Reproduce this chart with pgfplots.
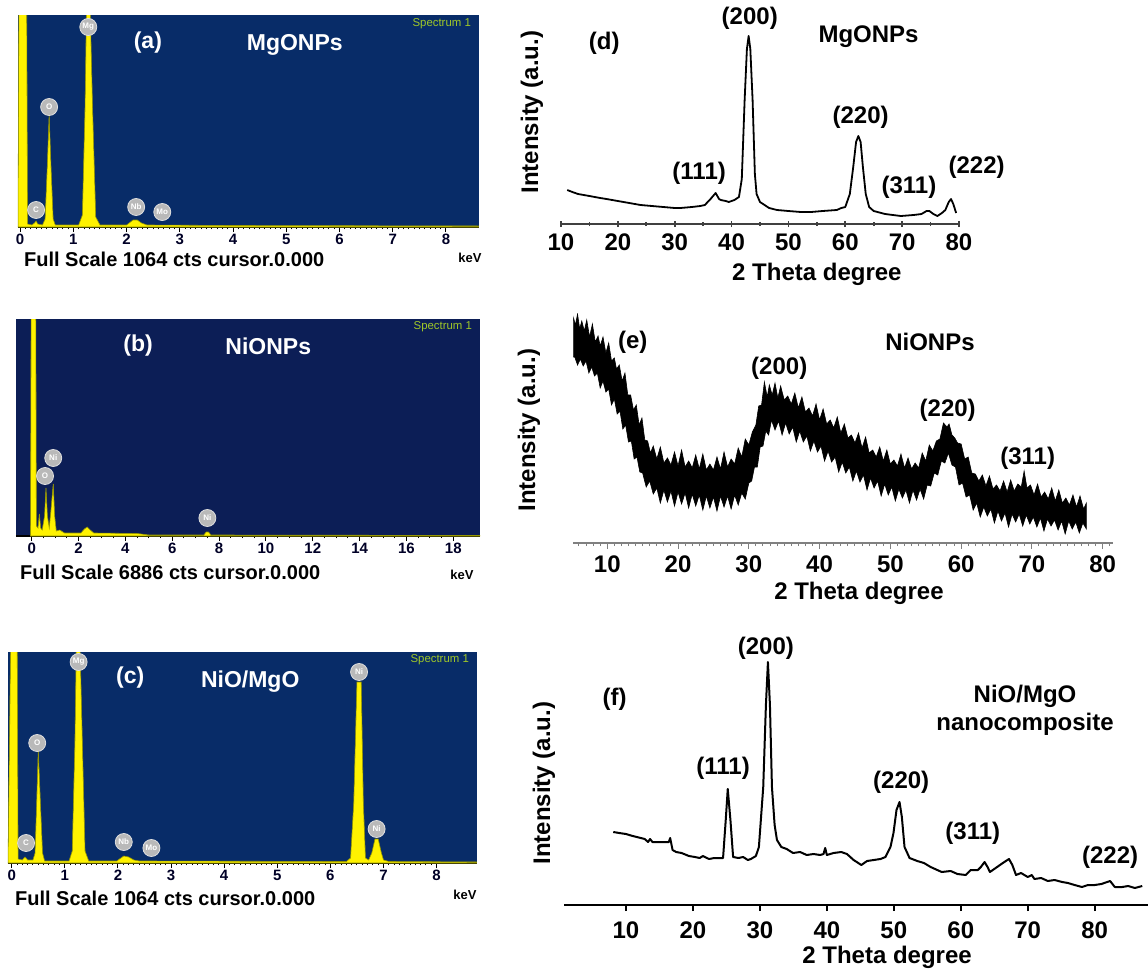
\documentclass[border=0pt]{standalone}
\usepackage{fontspec}
\setmainfont{Liberation Sans}
\usepackage{pgfplots}
\pgfplotsset{compat=1.18}

\definecolor{navyA}{RGB}{8,44,104}
\definecolor{navyB}{RGB}{12,30,86}
\definecolor{specgreen}{RGB}{160,200,40}
\definecolor{peakedge}{RGB}{150,150,0}

\newcommand\xf{\fontsize{12}{13}\selectfont\bfseries}
\newcommand\edsf{\fontsize{11.5}{12}\selectfont\bfseries}
\newcommand\fsf{\fontsize{10}{11}\selectfont\bfseries}

\tikzset{
  el/.style={circle, fill=gray!55, draw=gray!25, inner sep=0.4pt, minimum size=8.5pt,
    font=\fontsize{4}{4}\selectfont\bfseries, text=white},
  spec/.style={font=\fontsize{5.7}{6}\selectfont, text=specgreen, anchor=east},
  wlab/.style={font=\edsf, text=white},
  hkl/.style={font=\xf},
}

\pgfplotsset{
  eds/.style={
    scale only axis, anchor=south west, clip mode=individual,
    axis x line*=bottom, axis y line=none, ymin=0,
    axis line style={black, line width=0.6pt},
    tick align=outside, major tick length=2.5pt, minor tick length=1.2pt,
    every tick/.style={black, line width=0.5pt},
    xticklabel style={font=\fontsize{7.5}{8}\selectfont\bfseries, text=black!85!blue, inner sep=1pt},
    /pgf/number format/assume math mode=true,
  },
  peak/.style={fill=yellow, draw=peakedge, line width=0.3pt},
  xrd/.style={
    scale only axis, anchor=south west, clip mode=individual,
    axis x line*=bottom, axis y line=none, ymin=0,
    xtick={10,20,...,80},
    xticklabel style={font=\xf},
    /pgf/number format/assume math mode=true,
  },
}

\begin{document}
\begin{tikzpicture}
\useasboundingbox (0,0) rectangle (574pt,-485pt);

% ---------------- (a) EDS MgO
\begin{axis}[eds, at={(9pt,-113.5pt)}, width=230.5pt, height=106pt,
  xmin=-0.04, xmax=8.62, ymax=212, xtick={0,...,8}, minor tick num=9,
  axis background/.style={fill=navyA}]
\addplot[peak] coordinates {(-0.04,0) (-0.02,260) (0.12,260) (0.14,3) (0.22,2) (0.27,4) (0.3,6)
  (0.33,3) (0.42,2) (0.47,8) (0.51,60) (0.545,112) (0.58,60) (0.62,8) (0.66,2) (1.1,2) (1.17,12)
  (1.22,120) (1.25,230) (1.31,230) (1.36,120) (1.42,10) (1.5,2) (2.0,2) (2.05,4) (2.12,7) (2.2,7)
  (2.28,4) (2.38,2) (4,1.5) (8.62,1) (8.62,0)} \closedcycle;
\node[el] at (axis cs:0.3,17) {C};
\node[el] at (axis cs:0.545,120) {O};
\node[el] at (axis cs:1.28,200) {Mg};
\node[el] at (axis cs:2.18,20) {Nb};
\node[el] at (axis cs:2.67,15) {Mo};
\node[wlab] at (axis cs:2.4,184) {(a)};
\node[wlab] at (axis cs:5.16,182) {MgONPs};
\node[spec] at (axis cs:8.6,203) {Spectrum 1};
\end{axis}
\node[font=\fsf, anchor=west] at (8.5pt,-129.5pt) {Full Scale 1064 cts cursor.0.000};
\node[font=\fontsize{6.5}{7}\selectfont\bfseries] at (235pt,-129pt) {keV};

% ---------------- (b) EDS NiO
\begin{axis}[eds, at={(8pt,-268pt)}, width=232pt, height=108.5pt,
  xmin=-0.67, xmax=19.14, ymax=217, xtick={0,2,...,18}, minor tick num=3,
  axis background/.style={fill=navyB}]
\addplot[peak] coordinates {(-0.05,0) (-0.02,260) (0.17,260) (0.2,10) (0.27,8) (0.33,22) (0.38,8)
  (0.45,6) (0.55,20) (0.61,48) (0.67,20) (0.75,8) (0.82,25) (0.92,52) (0.98,20) (1.05,5) (1.2,6)
  (1.4,3) (2.1,3) (2.25,7) (2.37,9) (2.5,6) (2.65,3) (4.5,2.5) (5,1) (7.35,1) (7.45,4) (7.55,4)
  (7.65,1) (19.14,0.5) (19.14,0)} \closedcycle;
\node[el] at (axis cs:0.57,60) {O};
\node[el] at (axis cs:0.92,78) {Ni};
\node[el] at (axis cs:7.5,18) {Ni};
\node[wlab] at (axis cs:4.54,190) {(b)};
\node[wlab] at (axis cs:10.1,190) {NiONPs};
\node[spec] at (axis cs:19.1,209) {Spectrum 1};
\end{axis}
\node[font=\fsf, anchor=west] at (6.5pt,-286pt) {Full Scale 6886 cts cursor.0.000};
\node[font=\fontsize{6.5}{7}\selectfont\bfseries] at (231pt,-287.5pt) {keV};

% ---------------- (c) EDS NiO/MgO
\begin{axis}[eds, at={(4pt,-431.5pt)}, width=234.5pt, height=105.5pt,
  xmin=-0.07, xmax=8.76, ymax=211, xtick={0,...,8}, minor tick num=9,
  axis background/.style={fill=navyA}]
\addplot[peak] coordinates {(-0.07,0) (-0.01,260) (0.1,260) (0.12,4) (0.2,3) (0.25,6) (0.3,3)
  (0.4,3) (0.44,10) (0.47,60) (0.5,113) (0.54,60) (0.58,10) (0.62,2) (1.08,2) (1.14,12) (1.19,120)
  (1.22,230) (1.28,230) (1.33,120) (1.38,12) (1.45,2) (1.98,2) (2.03,4) (2.11,7) (2.2,6) (2.3,3)
  (2.4,2) (6.3,1.5) (6.38,5) (6.44,60) (6.5,181) (6.58,181) (6.62,60) (6.66,5) (6.72,3) (6.78,10)
  (6.84,24) (6.9,24) (6.96,10) (7.0,3) (7.1,1.5) (8.76,1) (8.76,0)} \closedcycle;
\node[el] at (axis cs:0.27,20) {C};
\node[el] at (axis cs:0.48,120) {O};
\node[el] at (axis cs:1.26,201) {Mg};
\node[el] at (axis cs:2.11,21) {Nb};
\node[el] at (axis cs:2.63,15) {Mo};
\node[el] at (axis cs:6.54,191) {Ni};
\node[el] at (axis cs:6.87,34) {Ni};
\node[wlab] at (axis cs:2.23,185) {(c)};
\node[wlab] at (axis cs:4.49,181) {NiO/MgO};
\node[spec] at (axis cs:8.74,203) {Spectrum 1};
\end{axis}
\node[font=\fsf, anchor=west] at (4pt,-449pt) {Full Scale 1064 cts cursor.0.000};
\node[font=\fontsize{6.5}{7}\selectfont\bfseries] at (232.5pt,-447.5pt) {keV};

% ---------------- (d) XRD MgO
\begin{axis}[xrd, at={(280.5pt,-112pt)}, width=199pt, height=100pt,
  xmin=10, xmax=80, ymax=200,
  minor xtick={15,25,...,75}, tick align=center,
  major tick length=3pt, minor tick length=2pt,
  axis line style={black!75, line width=0.9pt},
  every tick/.style={black!75, line width=0.8pt}]
\addplot[black, line width=0.9pt, line join=round] coordinates {
  (11.1,34) (12,32) (13,30) (14,29) (15,28) (16.9,26) (18,25) (19,24) (20,23) (22,21) (24,19)
  (26,18) (28,17) (30,16) (31,16) (33,17) (34.5,18) (35.3,19) (36.3,25) (37.2,31) (37.8,25)
  (38.1,24) (39.0,23) (39.5,22) (40.5,24) (41.3,27) (41.8,45) (42.3,124) (42.7,175) (43.0,188)
  (43.3,175) (43.7,124) (44.1,50) (44.4,30) (45,22) (46.6,16) (48,14) (50,13) (52.2,12) (54,12)
  (56,13) (58.5,14) (59.3,16) (60,17) (60.8,30) (61.4,57) (61.9,82) (62.3,88) (62.7,82) (63.1,57)
  (63.6,30) (64.2,17) (65,13) (67,10) (69.8,8) (72,9) (73.4,10) (74.3,13) (74.8,13) (75.5,10)
  (76.2,8) (77,11) (77.6,14) (78.2,22) (78.6,25) (79.0,20) (79.5,11)};
\node[hkl] at (axis cs:17.6,181) {(d)};
\node[hkl] at (axis cs:43.2,206) {(200)};
\node[hkl] at (axis cs:64.1,187) {MgONPs};
\node[hkl] at (axis cs:62.7,107) {(220)};
\node[hkl] at (axis cs:34.3,51) {(111)};
\node[hkl] at (axis cs:71.2,37) {(311)};
\node[hkl] at (axis cs:83.1,57) {(222)};
\node[font=\xf] at (axis description cs:0.643,-0.25) {2 Theta degree};
\node[font=\xf, rotate=90] at (axis description cs:-0.073,0.56) {Intensity (a.u.)};
\end{axis}

% ---------------- (e) XRD NiO
\begin{axis}[xrd, at={(286.65pt,-271.5pt)}, width=270pt, height=115pt,
  xmin=5.2, xmax=81.5, ymax=230,
  minor xtick={6,...,81}, tick align=outside,
  major tick length=3pt, minor tick length=1.5pt,
  axis line style={black!50, line width=0.6pt},
  every tick/.style={black!50, line width=0.5pt}]
\addplot[fill=black, draw=black, line width=0.3pt] coordinates {
  (5.2,226) (5.5,218) (5.8,229) (6.1,214) (6.4,222) (6.75,212) (7.1,223) (7.5,206) (7.9,219)
  (8.3,201) (8.7,207) (9.0,197) (9.4,206) (9.8,190) (10.2,200) (10.6,182) (11.0,185) (11.3,174)
  (11.7,178) (12.1,162) (12.5,170) (12.9,148) (13.3,148) (13.7,133) (14.1,138) (14.5,118)
  (14.9,125) (15.3,103) (15.7,102) (16.1,90) (16.5,97) (17.0,84) (17.5,96) (18.0,80) (18.5,85)
  (19.0,78) (19.5,91) (20.0,77) (20.5,93) (21.0,76) (21.5,82) (22.0,75) (22.5,88) (23.0,74)
  (23.5,89) (24.0,73) (24.5,79) (25.0,73) (25.5,86) (26.0,74) (26.5,91) (27.0,76) (27.5,84)
  (28.0,79) (28.5,95) (29.0,86) (29.5,104) (30.0,98) (30.5,111) (31.0,118) (31.4,137) (31.8,138)
  (32.2,161) (32.6,146) (32.9,158) (33.3,148) (33.7,160) (34.1,145) (34.5,157) (35.0,143)
  (35.5,147) (36.0,139) (36.5,150) (37.0,135) (37.5,146) (38.0,131) (38.5,135) (39.0,127)
  (39.5,139) (40.0,123) (40.5,134) (41.0,119) (41.5,123) (42.0,115) (42.5,126) (43.0,110)
  (43.5,119) (44.0,105) (44.5,108) (45.0,100) (45.5,110) (46.0,95) (46.5,106) (47.0,90) (47.5,93)
  (48.0,86) (48.5,96) (49.0,82) (49.5,93) (50.0,79) (50.5,83) (51.0,77) (51.5,89) (52.0,75)
  (52.5,85) (53.0,74) (53.5,80) (54.0,75) (54.5,90) (55.0,82) (55.5,98) (56.0,92) (56.5,102)
  (57.0,104) (57.5,120) (58.0,116) (58.3,119) (58.7,108) (59.1,105) (59.5,100) (60.0,99)
  (60.5,84) (61.0,86) (61.5,70) (62.0,69) (62.5,62) (63.0,68) (63.5,57) (64.0,67) (64.5,54)
  (65.0,58) (65.5,52) (66.0,62) (66.5,51) (67.0,63) (67.5,52) (68.0,59) (68.5,56) (68.9,72)
  (69.3,55) (69.8,58) (70.3,48) (70.8,59) (71.3,46) (71.8,51) (72.3,44) (72.8,55) (73.3,42)
  (73.8,53) (74.3,40) (74.8,45) (75.3,38) (75.8,48) (76.3,36) (76.8,47) (77.3,34) (77.7,40)
  (77.7,14) (77.2,20) (76.7,10) (76.2,21) (75.7,14) (75.2,22) (74.7,9) (74.2,22) (73.7,13)
  (73.2,23) (72.7,17) (72.2,24) (71.7,12) (71.2,25) (70.7,16) (70.2,26) (69.7,19) (69.2,28)
  (68.7,17) (68.2,29) (67.7,21) (67.2,29) (66.7,16) (66.2,30) (65.7,22) (65.2,32) (64.7,20)
  (64.2,34) (63.7,27) (63.2,36) (62.7,26) (62.2,40) (61.7,33) (61.2,48) (60.7,46) (60.2,60)
  (59.7,58) (59.2,76) (58.7,78) (58.2,90) (57.7,80) (57.2,82) (56.7,68) (56.2,70) (55.7,57)
  (55.2,58) (54.7,44) (54.2,54) (53.7,43) (53.2,53) (52.7,40) (52.2,53) (51.7,45) (51.2,54)
  (50.7,42) (50.2,56) (49.7,48) (49.2,59) (48.7,47) (48.2,62) (47.7,55) (47.2,65) (46.7,53)
  (46.2,68) (45.7,61) (45.2,72) (44.7,62) (44.2,76) (43.7,70) (43.2,81) (42.7,71) (42.2,86)
  (41.7,81) (41.2,92) (40.7,82) (40.2,97) (39.7,91) (39.2,102) (38.7,92) (38.2,107) (37.7,101)
  (37.2,112) (36.7,101) (36.2,116) (35.7,109) (35.2,120) (34.7,108) (34.2,122) (33.7,113)
  (33.2,123) (32.8,108) (32.4,112) (32.0,97) (31.6,96) (31.2,76) (30.8,76) (30.4,62) (30.0,60)
  (29.5,44) (29.0,50) (28.5,38) (28.0,48) (27.5,34) (27.0,47) (26.5,36) (26.0,47) (25.5,32)
  (25.0,46) (24.5,35) (24.0,47) (23.5,33) (23.0,48) (22.5,37) (22.0,49) (21.5,35) (21.0,50)
  (20.5,39) (20.0,51) (19.5,37) (19.0,52) (18.5,41) (18.0,53) (17.5,40) (17.0,55) (16.5,49)
  (16.0,62) (15.5,56) (15.0,70) (14.6,71) (14.2,86) (13.8,84) (13.4,102) (13.0,101) (12.6,118)
  (12.2,114) (11.8,132) (11.4,129) (11.0,144) (10.6,138) (10.2,154) (9.8,151) (9.4,162) (9.0,155)
  (8.6,170) (8.2,167) (7.8,176) (7.4,170) (7.0,182) (6.6,177) (6.2,184) (5.8,178) (5.4,186)
  (5.2,186)} -- cycle;
\node[hkl] at (axis cs:13.6,201) {(e)};
\node[hkl] at (axis cs:55.6,201) {NiONPs};
\node[hkl] at (axis cs:34.3,175) {(200)};
\node[hkl] at (axis cs:58.1,133) {(220)};
\node[hkl] at (axis cs:69.4,85) {(311)};
\node[font=\xf] at (axis description cs:0.529,-0.217) {2 Theta degree};
\node[font=\xf, rotate=90] at (axis description cs:-0.082,0.491) {Intensity (a.u.)};
\end{axis}

% ---------------- (f) XRD NiO/MgO
\begin{axis}[xrd, at={(282.15pt,-452.5pt)}, width=291.85pt, height=132.5pt,
  xmin=0.79, xmax=87.96, ymax=265,
  tick align=outside, major tick length=3pt,
  xticklabel style={yshift=-2pt},
  axis line style={black, line width=1pt},
  every tick/.style={black, line width=1pt}]
\addplot[black, line width=1pt, line join=round] coordinates {
  (8.1,73) (9,72) (10,71) (11,69) (12.2,67) (12.8,66) (13.3,63) (13.6,66) (13.95,63) (14.5,63)
  (15.5,63) (16.4,63) (16.6,67) (16.96,55) (17.5,53) (18.3,52) (19.4,49) (20.3,48) (21,47)
  (21.5,49) (22.4,46) (23.2,47) (24,47) (24.5,47) (24.9,85) (25.2,116) (25.6,85) (26.0,48)
  (26.8,47) (27.5,48) (28.2,45) (28.65,46) (29.4,49) (29.85,58) (30.5,118) (30.9,200) (31.2,243)
  (31.5,200) (31.8,118) (32.2,80) (32.55,65) (33.2,58) (34,56) (34.95,52) (36,53) (37,50) (38,51)
  (39,50) (39.5,51) (39.75,57) (40,50) (41,52) (42.15,53) (43,51) (44,45) (45.15,40) (46,44)
  (47,45) (48,46) (48.75,48) (49.5,58) (49.95,72) (50.4,95) (50.85,103) (51.2,88) (51.6,58)
  (52.35,47) (53.5,44) (54.5,42) (55.5,38) (57.15,33) (58.5,34) (59.5,31) (60.75,30) (61.5,35)
  (62.55,35) (63,38) (63.55,43) (64,38) (64.35,33) (65,36) (65.85,40) (66.5,43) (67.2,46)
  (67.7,40) (68.25,30) (69,32) (70,28) (70.6,30) (71,26) (72,27) (73,24) (74,25) (75.15,23)
  (76,22) (77,20) (78.1,18) (79,20) (80,20) (81,21) (82.3,24) (83,18) (84.1,18) (85,19) (86,17)
  (87.1,19)};
\node[hkl] at (axis cs:30.9,257) {(200)};
\node[hkl] at (axis cs:8.3,206) {(f)};
\node[hkl, align=center] at (axis cs:69.6,195) {NiO/MgO\\[1pt]nanocomposite};
\node[hkl] at (axis cs:24.5,137) {(111)};
\node[hkl] at (axis cs:51.1,123) {(220)};
\node[hkl] at (axis cs:61.8,72) {(311)};
\node[hkl] at (axis cs:82.3,48) {(222)};
\node[font=\xf] at (axis description cs:0.553,-0.196) {2 Theta degree};
\node[font=\xf, rotate=90] at (axis description cs:-0.035,0.46) {Intensity (a.u.)};
\end{axis}
\end{tikzpicture}
\end{document}
